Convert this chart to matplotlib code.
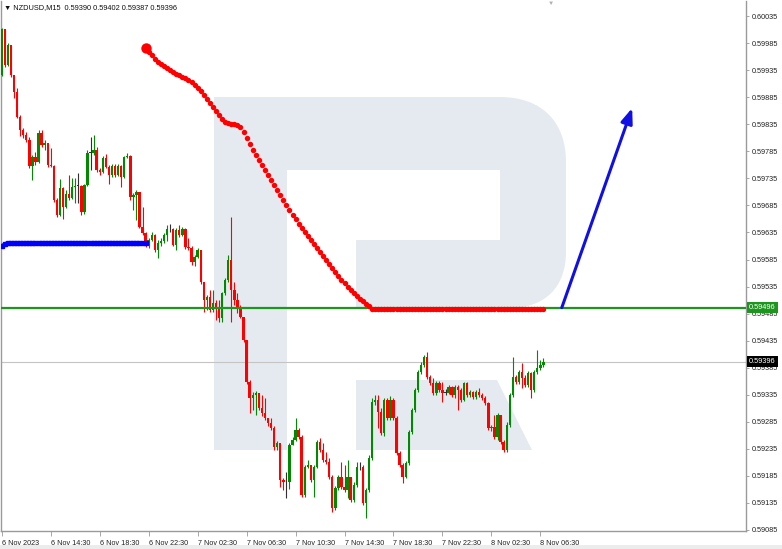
import matplotlib.pyplot as plt
import numpy as np
from matplotlib.path import Path
from matplotlib.patches import PathPatch, Polygon, Rectangle
from matplotlib.transforms import blended_transform_factory

plt.rcParams['font.family'] = ['Liberation Sans', 'DejaVu Sans']

# ---- data (NZDUSD M15, 6 Nov 2023 10:30 onwards) ----
header = 'NZDUSD,M15  0.59390 0.59402 0.59387 0.59396'
first_open = 0.59926

close = [
    0.60011, 0.59945, 0.59982, 0.59926, 0.59895, 0.59849, 0.59824, 0.59815, 0.59806, 0.59758,
    0.59775, 0.59765, 0.59819, 0.59797, 0.59800, 0.59760, 0.59757, 0.59695, 0.59667, 0.59717,
    0.59682, 0.59706, 0.59699, 0.59719, 0.59721, 0.59721, 0.59673, 0.59723, 0.59782, 0.59782,
    0.59788, 0.59750, 0.59747, 0.59773, 0.59756, 0.59741, 0.59758, 0.59741, 0.59758, 0.59738,
    0.59775, 0.59776, 0.59701, 0.59704, 0.59710, 0.59645, 0.59634, 0.59612, 0.59621, 0.59630,
    0.59602, 0.59615, 0.59619, 0.59630, 0.59641, 0.59641, 0.59612, 0.59640, 0.59630, 0.59641,
    0.59608, 0.59606, 0.59580, 0.59590, 0.59602, 0.59543, 0.59510, 0.59516, 0.59491, 0.59504,
    0.59495, 0.59477, 0.59523, 0.59547, 0.59584, 0.59529, 0.59510, 0.59497, 0.59479, 0.59436,
    0.59358, 0.59329, 0.59334, 0.59338, 0.59310, 0.59301, 0.59292, 0.59282, 0.59273, 0.59238,
    0.59245, 0.59177, 0.59173, 0.59173, 0.59242, 0.59251, 0.59270, 0.59257, 0.59149, 0.59201,
    0.59205, 0.59177, 0.59201, 0.59247, 0.59233, 0.59214, 0.59210, 0.59183, 0.59125, 0.59162,
    0.59183, 0.59164, 0.59159, 0.59183, 0.59140, 0.59168, 0.59201, 0.59201, 0.59134, 0.59159,
    0.59218, 0.59321, 0.59325, 0.59303, 0.59264, 0.59325, 0.59292, 0.59325, 0.59292, 0.59227,
    0.59205, 0.59183, 0.59208, 0.59266, 0.59306, 0.59343, 0.59377, 0.59390, 0.59405, 0.59368,
    0.59357, 0.59338, 0.59357, 0.59343, 0.59338, 0.59338, 0.59349, 0.59334, 0.59349, 0.59343,
    0.59325, 0.59357, 0.59334, 0.59340, 0.59331, 0.59340, 0.59334, 0.59329, 0.59319, 0.59273,
    0.59275, 0.59257, 0.59297, 0.59247, 0.59233, 0.59279, 0.59334, 0.59368, 0.59358, 0.59377,
    0.59366, 0.59353, 0.59375, 0.59343, 0.59377, 0.59384, 0.59390, 0.59396,
]
high = [
    0.60013, 0.60011, 0.59985, 0.59982, 0.59926, 0.59902, 0.59852, 0.59828, 0.59821, 0.59812,
    0.59778, 0.59784, 0.59824, 0.59824, 0.59806, 0.59800, 0.59791, 0.59760, 0.59699, 0.59734,
    0.59719, 0.59713, 0.59741, 0.59736, 0.59736, 0.59745, 0.59723, 0.59725, 0.59788, 0.59812,
    0.59815, 0.59793, 0.59754, 0.59776, 0.59780, 0.59760, 0.59762, 0.59762, 0.59762, 0.59760,
    0.59776, 0.59782, 0.59778, 0.59708, 0.59713, 0.59710, 0.59682, 0.59636, 0.59625, 0.59636,
    0.59632, 0.59621, 0.59625, 0.59634, 0.59649, 0.59651, 0.59643, 0.59643, 0.59649, 0.59645,
    0.59643, 0.59625, 0.59610, 0.59593, 0.59606, 0.59602, 0.59543, 0.59519, 0.59528, 0.59528,
    0.59510, 0.59510, 0.59525, 0.59551, 0.59593, 0.59664, 0.59543, 0.59523, 0.59501, 0.59479,
    0.59436, 0.59362, 0.59340, 0.59342, 0.59338, 0.59334, 0.59329, 0.59292, 0.59292, 0.59277,
    0.59249, 0.59245, 0.59181, 0.59192, 0.59245, 0.59257, 0.59292, 0.59273, 0.59260, 0.59205,
    0.59214, 0.59205, 0.59205, 0.59251, 0.59255, 0.59245, 0.59229, 0.59218, 0.59186, 0.59166,
    0.59186, 0.59210, 0.59205, 0.59214, 0.59183, 0.59173, 0.59210, 0.59210, 0.59205, 0.59162,
    0.59223, 0.59329, 0.59334, 0.59334, 0.59310, 0.59329, 0.59329, 0.59332, 0.59329, 0.59295,
    0.59231, 0.59208, 0.59212, 0.59270, 0.59310, 0.59347, 0.59381, 0.59395, 0.59408, 0.59414,
    0.59371, 0.59366, 0.59360, 0.59360, 0.59358, 0.59345, 0.59353, 0.59351, 0.59353, 0.59353,
    0.59347, 0.59358, 0.59358, 0.59343, 0.59342, 0.59343, 0.59347, 0.59338, 0.59332, 0.59321,
    0.59279, 0.59297, 0.59301, 0.59297, 0.59251, 0.59284, 0.59338, 0.59405, 0.59371, 0.59381,
    0.59393, 0.59371, 0.59379, 0.59377, 0.59381, 0.59418, 0.59399, 0.59402,
]
low = [
    0.59924, 0.59941, 0.59943, 0.59923, 0.59884, 0.59847, 0.59813, 0.59810, 0.59802, 0.59754,
    0.59732, 0.59760, 0.59763, 0.59793, 0.59787, 0.59756, 0.59756, 0.59691, 0.59663, 0.59665,
    0.59660, 0.59680, 0.59695, 0.59697, 0.59689, 0.59689, 0.59667, 0.59669, 0.59721, 0.59750,
    0.59778, 0.59747, 0.59741, 0.59745, 0.59754, 0.59725, 0.59738, 0.59738, 0.59739, 0.59719,
    0.59736, 0.59773, 0.59695, 0.59676, 0.59658, 0.59643, 0.59630, 0.59608, 0.59606, 0.59619,
    0.59599, 0.59588, 0.59610, 0.59615, 0.59619, 0.59636, 0.59610, 0.59602, 0.59627, 0.59628,
    0.59604, 0.59602, 0.59575, 0.59573, 0.59588, 0.59540, 0.59488, 0.59491, 0.59488, 0.59488,
    0.59473, 0.59469, 0.59469, 0.59519, 0.59543, 0.59469, 0.59501, 0.59486, 0.59477, 0.59432,
    0.59355, 0.59301, 0.59306, 0.59297, 0.59306, 0.59295, 0.59288, 0.59277, 0.59270, 0.59233,
    0.59233, 0.59164, 0.59159, 0.59144, 0.59160, 0.59242, 0.59249, 0.59253, 0.59145, 0.59145,
    0.59199, 0.59173, 0.59145, 0.59199, 0.59229, 0.59210, 0.59207, 0.59179, 0.59118, 0.59122,
    0.59159, 0.59160, 0.59155, 0.59144, 0.59136, 0.59136, 0.59164, 0.59196, 0.59131, 0.59107,
    0.59155, 0.59214, 0.59316, 0.59273, 0.59260, 0.59258, 0.59288, 0.59288, 0.59288, 0.59223,
    0.59201, 0.59171, 0.59181, 0.59205, 0.59262, 0.59303, 0.59340, 0.59373, 0.59386, 0.59364,
    0.59353, 0.59334, 0.59334, 0.59340, 0.59321, 0.59334, 0.59336, 0.59331, 0.59329, 0.59306,
    0.59321, 0.59323, 0.59331, 0.59331, 0.59327, 0.59327, 0.59331, 0.59325, 0.59316, 0.59270,
    0.59268, 0.59253, 0.59251, 0.59244, 0.59229, 0.59229, 0.59275, 0.59331, 0.59355, 0.59355,
    0.59347, 0.59349, 0.59349, 0.59329, 0.59340, 0.59373, 0.59381, 0.59387,
]

time_labels = ['6 Nov 2023', '6 Nov 14:30', '6 Nov 18:30', '6 Nov 22:30', '7 Nov 02:30',
               '7 Nov 06:30', '7 Nov 10:30', '7 Nov 14:30', '7 Nov 18:30', '7 Nov 22:30',
               '8 Nov 02:30', '8 Nov 06:30']
bars_per_label = 16

# blue indicator line (bars 0..47)
blue_line = [
    0.59610, 0.59614, 0.59616, 0.59616, 0.59616, 0.59616, 0.59616, 0.59616, 0.59616, 0.59616,
    0.59616, 0.59616, 0.59616, 0.59616, 0.59616, 0.59616, 0.59616, 0.59616, 0.59616, 0.59616,
    0.59616, 0.59616, 0.59616, 0.59616, 0.59616, 0.59616, 0.59616, 0.59616, 0.59616, 0.59616,
    0.59616, 0.59616, 0.59616, 0.59616, 0.59616, 0.59616, 0.59616, 0.59616, 0.59616, 0.59616,
    0.59616, 0.59616, 0.59616, 0.59616, 0.59616, 0.59616, 0.59616, 0.59616,
]

# red dotted indicator (bars 47..177)
red_start = 47
red_dots = [
    0.59976, 0.59969, 0.59963, 0.59956, 0.59950, 0.59947, 0.59943, 0.59939, 0.59935, 0.59932,
    0.59928, 0.59926, 0.59923, 0.59921, 0.59917, 0.59913, 0.59908, 0.59902, 0.59897, 0.59889,
    0.59882, 0.59874, 0.59867, 0.59860, 0.59852, 0.59845, 0.59839, 0.59837, 0.59836, 0.59836,
    0.59834, 0.59830, 0.59821, 0.59810, 0.59799, 0.59788, 0.59778, 0.59769, 0.59760, 0.59750,
    0.59741, 0.59732, 0.59723, 0.59713, 0.59704, 0.59695, 0.59686, 0.59676, 0.59667, 0.59660,
    0.59651, 0.59643, 0.59636, 0.59628, 0.59621, 0.59614, 0.59606, 0.59599, 0.59591, 0.59584,
    0.59577, 0.59569, 0.59562, 0.59554, 0.59547, 0.59541, 0.59534, 0.59529, 0.59523, 0.59517,
    0.59512, 0.59508, 0.59503, 0.59499, 0.59494, 0.59494, 0.59494, 0.59494, 0.59494, 0.59494,
    0.59494, 0.59494, 0.59494, 0.59494, 0.59494, 0.59494, 0.59494, 0.59494, 0.59494, 0.59494,
    0.59494, 0.59494, 0.59494, 0.59494, 0.59494, 0.59494, 0.59494, 0.59494, 0.59494, 0.59494,
    0.59494, 0.59494, 0.59494, 0.59494, 0.59494, 0.59494, 0.59494, 0.59494, 0.59494, 0.59494,
    0.59494, 0.59494, 0.59494, 0.59494, 0.59494, 0.59494, 0.59494, 0.59494, 0.59494, 0.59494,
    0.59494, 0.59494, 0.59494, 0.59494, 0.59494, 0.59494, 0.59494, 0.59494, 0.59494, 0.59494,
    0.59494,
]

support_level = 0.59496
current_price = 0.59396
arrow_start = (183, 0.59496)
arrow_end = (206, 0.59865)

price_ticks = [0.59085, 0.59135, 0.59185, 0.59235, 0.59285, 0.59335, 0.59385, 0.59435,
               0.59485, 0.59535, 0.59585, 0.59635, 0.59685, 0.59735, 0.59785, 0.59835,
               0.59885, 0.59935, 0.59985, 0.60035]

# ---- figure ----
W, H = 782, 549
fig = plt.figure(figsize=(W / 100, H / 100), dpi=100)
ax = fig.add_axes([1 / W, 18 / H, 745 / W, 530 / H])
ax.set_xlim(-0.26, 243.2)
ax.set_ylim(0.59083, 0.60063)


def px(x, y):
    # pixel position inside the chart window -> axes fraction
    return ((x - 1) / 745, (531 - y) / 530)


# watermark logo
wm = '#e5eaf1'
ax.add_patch(Polygon([px(214, 97), px(287, 97), px(287, 450), px(214, 450)],
                     closed=True, transform=ax.transAxes, fc=wm, ec='none', zorder=0))
bowl = [(287, 97), (500, 97), (542, 97), (566, 122), (566, 162), (566, 252),
        (566, 287), (545, 308), (510, 308), (356, 308), (356, 240), (500, 240),
        (500, 170), (287, 170), (287, 97)]
codes = [Path.MOVETO, Path.LINETO, Path.CURVE4, Path.CURVE4, Path.CURVE4, Path.LINETO,
         Path.CURVE4, Path.CURVE4, Path.CURVE4, Path.LINETO, Path.LINETO, Path.LINETO,
         Path.LINETO, Path.LINETO, Path.CLOSEPOLY]
ax.add_patch(PathPatch(Path([px(*p) for p in bowl], codes), transform=ax.transAxes,
                       fc=wm, ec='none', zorder=0))
ax.add_patch(Polygon([px(356, 380), px(497, 380), px(532, 450), px(356, 450)],
                     closed=True, transform=ax.transAxes, fc=wm, ec='none', zorder=0))

# candles
c = np.array(close)
h = np.array(high)
l = np.array(low)
o = np.r_[first_open, c[:-1]]
idx = np.arange(len(c))
col = np.where(c > o, '#008a00', np.where(c < o, '#ff0000', '#303030'))
ax.vlines(idx, l, h, colors=col, linewidth=0.8, zorder=3)
body = np.maximum(np.abs(c - o), 0.000012)
ax.bar(idx, body, bottom=np.minimum(o, c), width=0.78, color=col, linewidth=0, zorder=4)

# horizontal levels
ax.axhline(current_price, color='#c4c4c4', linewidth=0.8, zorder=2)
ax.axhline(support_level, color='#1c961c', linewidth=1.6, zorder=5)

# indicators
ax.plot(np.arange(len(blue_line)), blue_line, color='#0000ff', linewidth=2.4,
        marker='s', markersize=2.6, zorder=5)
rx = np.arange(red_start, red_start + len(red_dots))
ax.plot(rx, red_dots, linestyle='none', marker='o', markersize=3.9, color='#ff0000',
        markeredgewidth=0, zorder=6)
ax.plot(rx[0], red_dots[0], marker='o', markersize=7.5, color='#ff0000',
        markeredgewidth=0, zorder=6)

# forecast arrow
ax.annotate('', xy=arrow_end, xytext=arrow_start,
            arrowprops=dict(arrowstyle='-|>,head_length=0.9,head_width=0.35',
                            color='#1010e6', lw=2.2, shrinkA=0, shrinkB=0), zorder=7)

# axes styling
for s in ['left', 'right', 'bottom', 'top']:
    ax.spines[s].set_color('#9a9a9a')
    ax.spines[s].set_linewidth(1.0)
ax.spines['top'].set_visible(False)

ax.yaxis.tick_right()
ax.set_yticks(price_ticks)
ax.set_yticklabels(['%.5f' % v for v in price_ticks])
ax.tick_params(axis='y', direction='out', length=2.5, width=0.6, pad=2,
               labelsize=5.2, colors='#9a9a9a', labelcolor='#202020')

xt = np.arange(len(time_labels)) * bars_per_label
ax.set_xticks(xt)
ax.set_xticklabels(time_labels)
ax.tick_params(axis='x', direction='out', length=3.5, width=0.6, pad=3,
               labelsize=5.2, colors='#9a9a9a', labelcolor='#202020')
for lb in ax.get_xticklabels():
    lb.set_ha('left')

# price tags on the right scale
tr = blended_transform_factory(ax.transAxes, ax.transData)
ax.text(1.0 + 3 / 745, support_level, '%.5f' % support_level, transform=tr,
        fontsize=5.3, color='white', va='center', ha='left', clip_on=False,
        bbox=dict(boxstyle='square,pad=0.3', fc='#1c961c', ec='none'), zorder=8)
ax.text(1.0 + 3 / 745, current_price, '%.5f' % current_price, transform=tr,
        fontsize=5.3, color='white', va='center', ha='left', clip_on=False,
        bbox=dict(boxstyle='square,pad=0.3', fc='#000000', ec='none'), zorder=8)

# header and chart shift marker
fig.text(4 / W, 1 - 8 / H, '\u25bc ' + header, fontsize=5.3, color='#101010',
         va='center', ha='left')
fig.text(551 / W, 1 - 3 / H, '\u25bc', fontsize=4.5, color='#b0b0b0',
         va='center', ha='center')

# bottom status strip
fig.patches.append(Rectangle((0, 0), 1, 4 / H, transform=fig.transFigure,
                             fc='#ececec', ec='none'))

fig.savefig('out.png', dpi=100)
